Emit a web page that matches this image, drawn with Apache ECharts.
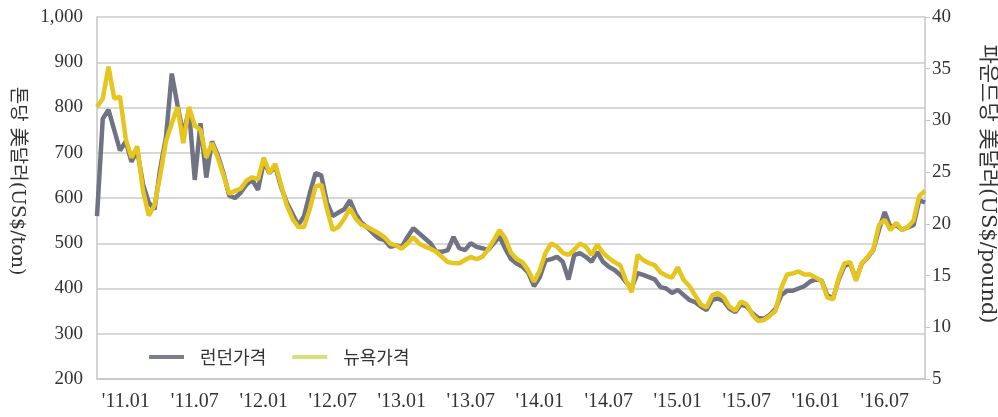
<!DOCTYPE html>
<html>
<head>
<meta charset="utf-8">
<script src="https://cdn.jsdelivr.net/npm/echarts/dist/echarts.min.js"></script>
<style>
html,body{margin:0;padding:0;background:#fff;}
#chart{width:998px;height:417px;}
</style>
</head>
<body>
<div id="chart"></div>
<script>
// half-month steps, index 0 = mid Oct 2010, index 144 = mid Oct 2016
var londonPrice = [560,775,795,750,705,725,680,705,630,590,
	575,665,735,875,805,740,795,640,765,645,
	725,695,655,605,600,612,630,640,618,680,
	655,670,625,590,565,540,560,610,655,650,
	590,560,568,575,595,565,545,535,522,511,
	507,492,495,492,514,533,522,511,500,481,
	481,485,514,489,485,500,492,489,485,500,
	515,488,465,455,448,435,405,425,462,465,
	470,459,420,474,478,470,459,481,459,448,
	441,430,414,401,434,430,425,420,403,400,
	390,397,386,375,370,360,352,375,378,372,
	355,348,365,360,345,335,333,342,355,385,
	395,395,400,405,415,420,418,385,378,420,
	450,455,420,455,468,485,530,569,535,540,
	530,535,540,595,590];//US$/ton

var newyorkPrice = [31.3,32.1,35.2,32.1,32.3,28.2,26.4,27.5,23.2,20.8,
	21.8,24.7,28.0,29.7,31.3,27.8,31.3,29.5,29.1,26.4,
	27.8,26.4,24.7,22.9,23.2,23.4,24.2,24.5,24.3,26.4,
	24.9,25.8,23.8,21.8,20.5,19.7,19.7,21.4,23.6,23.8,
	21.4,19.4,19.7,20.5,21.5,20.5,19.9,19.7,19.4,19.1,
	18.7,18.1,17.9,17.6,18.1,18.7,18.1,17.8,17.6,17.3,
	16.8,16.3,16.2,16.2,16.5,16.8,16.6,16.8,17.5,18.4,
	19.4,18.6,17.2,16.6,16.3,15.5,14.4,15.5,17.2,18.1,
	17.8,17.2,17.0,17.5,18.1,17.8,17.0,18.0,17.2,16.7,
	16.3,16.0,14.5,13.4,17.0,16.5,16.2,16.0,15.3,15.0,
	14.8,15.8,14.6,14.0,13.1,12.2,11.9,13.1,13.3,12.9,
	12.0,11.6,12.5,12.2,11.2,10.6,10.7,11.1,11.6,13.8,
	15.1,15.2,15.4,15.1,15.1,14.8,14.5,12.9,12.7,14.8,
	16.2,16.3,14.5,16.2,16.8,17.5,19.9,20.4,19.4,20.1,
	19.4,19.7,20.3,22.7,23.2];//US$/pound

var tickLabels = ["'11.01","'11.07","'12.01","'12.07","'13.01","'13.07","'14.01","'14.07","'15.01","'15.07","'16.01","'16.07"];
var seriesNames = ['런던가격','뉴욕가격'];

function makeCategories(n)
{
	var cats = [];
	for(var k=0;k<n;k++)
	{
		var m = Math.floor((k+1)/2);
		var y = 2010 + Math.floor((9+m)/12);
		var mo = (9+m)%12 + 1;
		var d = (k%2==1) ? '01' : '15';
		cats.push(y+'-'+(mo<10?'0'+mo:mo)+'-'+d);
	}
	return cats;
}
var categories = makeCategories(londonPrice.length);

function tickText(val)
{
	var p = val.split('-');
	if(p[2]!='01' || (p[1]!='01' && p[1]!='07')) return null;
	var t = "'"+p[0].substr(2)+'.'+p[1];
	return tickLabels.indexOf(t)>=0 ? t : null;
}

var serif = "'Liberation Serif','Noto Sans CJK KR',serif";
var titleFont = "'DejaVu Serif','Noto Sans CJK KR',serif";
var myChart = echarts.init(document.getElementById('chart'));
var option = {
	backgroundColor: '#fff',
	animation: false,
	grid: {left: 97, right: 73, top: 17, bottom: 38},
	legend: {
		left: 149, top: 348, padding: 0, itemGap: 26,
		itemWidth: 35, itemHeight: 4,
		textStyle: {fontFamily: "'Noto Sans CJK KR',sans-serif", fontSize: 18, color: '#333', padding: [0,0,0,11]},
		data: [
			{name: seriesNames[0], icon: 'rect', itemStyle: {color: '#7b7e8c'}},
			{name: seriesNames[1], icon: 'rect', itemStyle: {color: '#d9df7a'}}
		]
	},
	graphic: [
		{type: 'text', x: 17, y: 181, rotation: -Math.PI/2,
			style: {text: '톤당 美달러(US$/ton)', fontFamily: titleFont, fontSize: 19, fill: '#333', align: 'center', verticalAlign: 'middle'}},
		{type: 'text', x: 987, y: 184, rotation: -Math.PI/2,
			style: {text: '파운드당 美달러(US$/pound)', fontFamily: titleFont, fontSize: 21, fill: '#333', align: 'center', verticalAlign: 'middle'}}
	],
	xAxis: {
		type: 'category',
		data: categories,
		boundaryGap: false,
		axisLine: {lineStyle: {color: '#c4c4c4', width: 1.5}},
		axisTick: {show: false},
		axisLabel: {
			interval: function(idx, val){ return tickText(val)!=null; },
			formatter: function(val){ return tickText(val) || ''; },
			margin: 13, fontFamily: serif, fontSize: 20, color: '#333'
		},
		splitLine: {show: false}
	},
	yAxis: [
		{
			type: 'value', min: 200, max: 1000, interval: 100,
			axisLine: {show: true, lineStyle: {color: '#c4c4c4', width: 1.5}},
			axisTick: {show: false},
			axisLabel: {margin: 14, fontFamily: serif, fontSize: 19, color: '#333',
				formatter: function(v){ return v>=1000 ? '1,000' : v; }},
			splitLine: {lineStyle: {color: '#cbcbcb', width: 1.5}}
		},
		{
			type: 'value', min: 5, max: 40, interval: 5,
			axisLine: {show: true, lineStyle: {color: '#c4c4c4', width: 1.5}},
			axisTick: {show: true, length: 5, lineStyle: {color: '#c4c4c4'}},
			axisLabel: {margin: 7, fontFamily: serif, fontSize: 19, color: '#333'},
			splitLine: {show: false}
		}
	],
	series: [
		{
			name: seriesNames[0], type: 'line', yAxisIndex: 0,
			data: londonPrice, symbol: 'none',
			lineStyle: {color: '#6f7384', width: 4.5},
			itemStyle: {color: '#6f7384'}
		},
		{
			name: seriesNames[1], type: 'line', yAxisIndex: 1,
			data: newyorkPrice, symbol: 'none',
			lineStyle: {color: '#e6c51e', width: 4.5},
			itemStyle: {color: '#e6c51e'}
		}
	]
};
myChart.setOption(option);
</script>
</body>
</html>
